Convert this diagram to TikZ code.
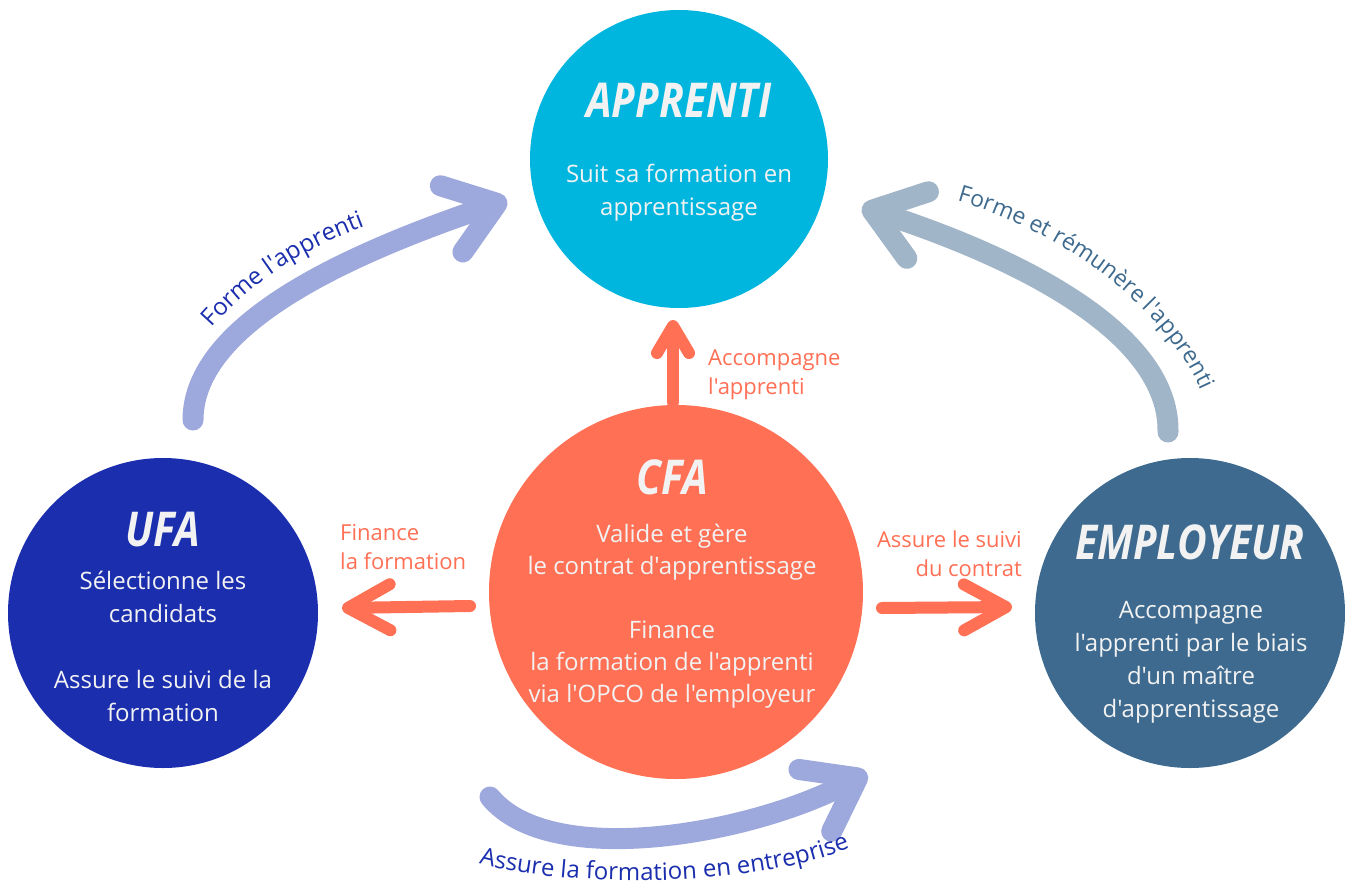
\documentclass[tikz,border=0pt]{standalone}
\usepackage{fontspec}
\setmainfont{Open Sans}[Ligatures=TeXOff]
\newfontfamily\brushfont[FakeStretch=0.85]{Open Sans}
\usetikzlibrary{arrows.meta,decorations.text}

\definecolor{apprenticyan}{RGB}{0,182,222}
\definecolor{cfacoral}{RGB}{255,112,85}
\definecolor{ufanavy}{RGB}{26,46,174}
\definecolor{employeursteel}{RGB}{61,106,142}
\definecolor{lavender}{RGB}{157,168,220}
\definecolor{greyblue}{RGB}{160,181,199}
\definecolor{disclight}{RGB}{242,242,242}

\begin{document}
\begin{tikzpicture}%
        [x=1pt, y=-1pt,
        disc/.style={circle, inner sep=0pt, draw=none},
        disctitle/.style={font=\brushfont\bfseries\itshape\fontsize{48}{48}\selectfont, text=disclight, inner sep=0pt},
        disctext/.style={text=disclight, align=center, inner sep=0pt, anchor=north},
        orangenote/.style={text=cfacoral, inner sep=0pt, font=\fontsize{22}{29}\selectfont},
        flowarrow/.style={draw=cfacoral, line width=12pt, line cap=round, -{Straight Barb[round,length=42pt,width=46pt]}},
        bigarrow/.style={line width=21pt, line cap=round, -{Straight Barb[round,length=48pt,width=70pt]}}]
    %
    \fill[white] (0,0) rectangle (1345,886);
    \useasboundingbox (0,0) rectangle (1345,886);

    %% Drawing the discs
    \node[disc, fill=apprenticyan, minimum size=298pt] (apprenti) at (679,159) {};
    \node[disc, fill=cfacoral, minimum size=374pt] (cfa) at (676,592) {};
    \node[disc, fill=ufanavy, minimum size=310pt] (ufa) at (163,613) {};
    \node[disc, fill=employeursteel, minimum size=310pt] (employeur) at (1190,613) {};

    %% Titles and texts
    \node[disctitle] (apprentititle) at (679,100) {APPRENTI};
    \node[disctext, font=\fontsize{24}{33}\selectfont] (apprentitext) at (679,164)
        {Suit sa formation en\\apprentissage};
    \node[disctitle] (cfatitle) at (672,477) {CFA};
    \node[disctext, font=\fontsize{24}{32}\selectfont] (cfatext) at (672,524)
        {Valide et gère\\le contrat d'apprentissage\\[32pt]Finance\\la formation de l'apprenti\\via l'OPCO de l'employeur};
    \node[disctitle] (ufatitle) at (163,530) {UFA};
    \node[disctext, font=\fontsize{24}{33}\selectfont] (ufatext) at (163,571)
        {Sélectionne les\\candidats\\[33pt]Assure le suivi de la\\formation};
    \node[disctitle] (employeurtitle) at (1190,542) {EMPLOYEUR};
    \node[disctext, font=\fontsize{24}{33}\selectfont] (employeurtext) at (1191,601)
        {Accompagne\\l'apprenti par le biais\\d'un maître\\d'apprentissage};

    %% Straight arrows out of the CFA
    \coordinate (accomptail) at (673,402);
    \coordinate (accomptip) at (673,320);
    \coordinate (financetail) at (470,606);
    \coordinate (financetip) at (342,608);
    \coordinate (suivitail) at (882,608);
    \coordinate (suivitip) at (1012,607);
    \draw[flowarrow, -{Straight Barb[round,length=27pt,width=32pt]}] (accomptail) -- (accomptip);
    \draw[flowarrow] (financetail) -- (financetip);
    \draw[flowarrow] (suivitail) -- (suivitip);
    \node[orangenote, align=left, anchor=north west] (accompnote) at (708,350) {Accompagne\\l'apprenti};
    \node[orangenote, align=left, anchor=north west] (financenote) at (340,524) {Finance\\la formation};
    \node[orangenote, align=right, anchor=north east] (suivinote) at (1022,531) {Assure le suivi\\du contrat};

    %% Curved arrows
    \coordinate (formetail) at (193,420);
    \coordinate (formetip) at (507,200);
    \coordinate (paietail) at (1168,432);
    \coordinate (paietip) at (862,207);
    \coordinate (entrtail) at (490,797);
    \coordinate (entrtip) at (867,773);
    \draw[bigarrow, draw=lavender] (formetail) .. controls (193,320) and (360,250) .. (formetip);
    \draw[bigarrow, draw=greyblue] (paietail) .. controls (1170,330) and (1010,255) .. (paietip);
    \draw[bigarrow, draw=lavender] (entrtail) .. controls (550,870) and (750,835) .. (entrtip);

    %% Labels along the curved arrows
    \path[decorate, decoration={text along path, text align=center, text color=ufanavy,
        text={|\fontsize{24}{24}\selectfont|Forme l'apprenti}}]
        (200,342) .. controls (252,279) and (305,247) .. (382,220);
    \path[decorate, decoration={text along path, text align=center, text color=employeursteel,
        text={|\fontsize{23}{23}\selectfont|Forme et rémunère l'apprenti}}]
        (942,197) .. controls (1045,222) and (1168,300) .. (1207,405);
    \path[decorate, decoration={text along path, text align=center, text color=ufanavy,
        text={|\fontsize{24}{24}\selectfont|Assure la formation en entreprise}}]
        (462,858) .. controls (540,888) and (760,893) .. (866,841);
    %%
\end{tikzpicture}
\end{document}
